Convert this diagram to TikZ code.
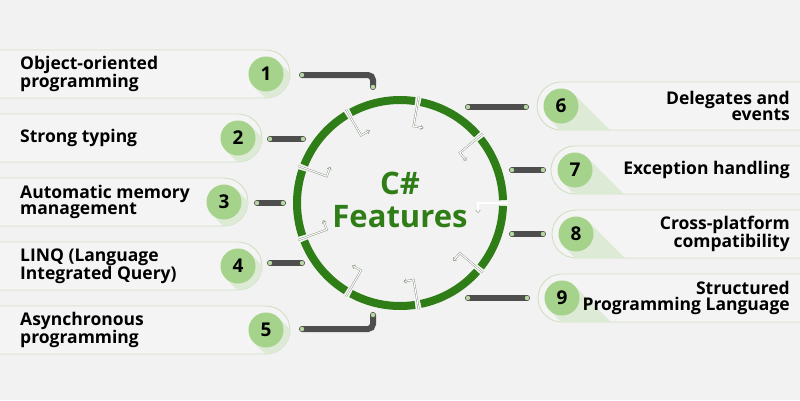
\documentclass[tikz,border=0pt]{standalone}
\usepackage{fontspec}
\setmainfont{Open Sans}
\usepackage{tikz}
\usetikzlibrary{calc,arrows.meta}

\definecolor{bgcol}{HTML}{F2F2F2}
\definecolor{boxline}{HTML}{D2DFC4}
\definecolor{boxfill}{HTML}{F4F4F4}
\definecolor{ringgreen}{HTML}{2E7D17}
\definecolor{numfill}{HTML}{A6D38C}
\definecolor{bargray}{HTML}{4E4E4E}
\definecolor{dotgreen}{HTML}{B5D8A0}
\definecolor{tickgray}{HTML}{7E8C76}

\begin{document}
\begin{tikzpicture}[x=1pt,y=-1pt,
			every node/.style={inner sep=0pt},
			box/.style={draw=boxline,fill=boxfill,line width=0.9pt,rounded corners=24pt},
			trail/.style={fill=numfill!30!boxfill},
			num/.style={circle,fill=numfill,minimum size=35pt,font=\fontsize{19}{19}\selectfont\bfseries},
			txtl/.style={anchor=west,align=left,font=\fontsize{17.5}{16.5}\selectfont\bfseries},
			txtr/.style={anchor=east,align=right,font=\fontsize{17.5}{16.5}\selectfont\bfseries},
			bar/.style={draw=bargray,line width=6pt,line cap=round,rounded corners=5pt},
			dot/.style={fill=dotgreen},
			tick/.style={draw=tickgray,double=white,line width=0.4pt,double distance=1.1pt,
				-{Straight Barb[length=2.5pt,width=4.5pt]}}]
	\useasboundingbox[fill=bgcol] (0,0) rectangle (800,400);

	% left boxes
	\foreach \i/\y/\xr/\txt in {1/74/290/{Object-oriented\\programming},
			2/138/262/{Strong typing},
			3/202/248/{Automatic memory\\management},
			4/266/262/{LINQ (Language\\Integrated Query)},
			5/330/290/{Asynchronous\\programming}}{
		\draw[box] (-40,\y-24) rectangle (\xr,\y+24);
		\begin{scope}
			\clip[rounded corners=24pt] (-40,\y-24) rectangle (\xr,\y+24);
			\fill[trail] (\xr-24+12.4,\y-12.4) -- (\xr-24+48.8,\y+24) -- (\xr-24-0.8,\y+24) -- (\xr-24-12.4,\y+12.4) -- cycle;
		\end{scope}
		\node[num] (n\i) at (\xr-24,\y) {\i};
		\node[txtl] (t\i) at (20,\y) {\txt};
	}

	% right boxes
	\foreach \i/\y/\xl/\txt in {6/106/537/{Delegates and\\events},
			7/170/551/{Exception handling},
			8/234/552/{Cross-platform\\compatibility},
			9/298/538/{Structured\\Programming Language}}{
		\draw[box] (\xl,\y-24) rectangle (840,\y+24);
		\begin{scope}
			\clip[rounded corners=24pt] (\xl,\y-24) rectangle (840,\y+24);
			\fill[trail] (\xl+24+12.4,\y-12.4) -- (\xl+24+48.8,\y+24) -- (\xl+24-0.8,\y+24) -- (\xl+24-12.4,\y+12.4) -- cycle;
		\end{scope}
		\node[num] (n\i) at (\xl+24,\y) {\i};
		\node[txtr] (t\i) at (790,\y) {\txt};
	}

	% ring
	\begin{scope}[shift={(400,203)}]
		\foreach \a in {0,40,...,320}
			\draw[ringgreen,line width=8pt] (\a+1.6:103) arc (\a+1.6:\a+38.4:103);
		\foreach \a in {0,40,...,320}
			\draw[tick] (\a:108) -- (\a:78) -- ++(\a+90:10);
	\end{scope}
	\node[font=\fontsize{31}{33}\selectfont\bfseries,text=ringgreen,align=center] (title) at (400,200) {C\#\\Features};

	% connectors
	\coordinate (a1) at (302,75);  \coordinate (b1) at (373,87);
	\coordinate (a2) at (270,139); \coordinate (b2) at (303,139);
	\coordinate (a3) at (257,203); \coordinate (b3) at (283,203);
	\coordinate (a4) at (270,263); \coordinate (b4) at (302,263);
	\coordinate (a5) at (302,329); \coordinate (b5) at (373,315);
	\coordinate (a6) at (526,107); \coordinate (b6) at (468,107);
	\coordinate (a7) at (543,170); \coordinate (b7) at (512,170);
	\coordinate (a8) at (543,234); \coordinate (b8) at (512,234);
	\coordinate (a9) at (527,298); \coordinate (b9) at (468,298);

	\draw[bar] (a1) -| (b1);
	\draw[bar] (a5) -| (b5);
	\foreach \i in {2,3,4,6,7,8,9}
		\draw[bar] (a\i) -- (b\i);
	\foreach \i in {1,...,9}{
		\fill[dot] (a\i) circle (2.2);
		\fill[dot] (b\i) circle (2.2);
	}
\end{tikzpicture}
\end{document}
